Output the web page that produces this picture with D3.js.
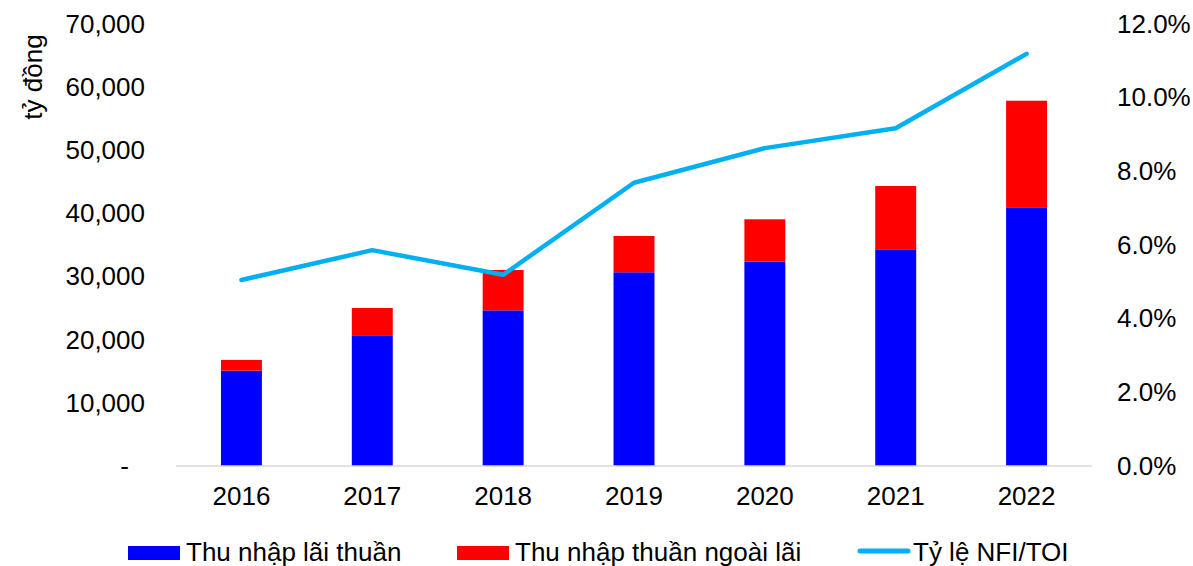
<!DOCTYPE html>
<html>
<head>
<meta charset="utf-8">
<script src="https://cdn.jsdelivr.net/npm/d3@7"></script>
<style>
  body { margin: 0; background: #fff; }
  text { font-family: "Liberation Sans", Arial, sans-serif; fill: #000; }
</style>
</head>
<body>
<svg id="chart" width="1193" height="566"></svg>
<script>
// data
const years = ["2016", "2017", "2018", "2019", "2020", "2021", "2022"];
const netInterest = [15100, 20600, 24650, 30680, 32350, 34320, 40970];
const nonInterest = [1700, 4420, 6390, 5750, 6720, 10020, 16880];
const nfiRatio = [0.0505, 0.0586, 0.0519, 0.0769, 0.0863, 0.0917, 0.1119];
const leftTicks = [0, 10000, 20000, 30000, 40000, 50000, 60000, 70000];
const rightTicks = [0, 0.02, 0.04, 0.06, 0.08, 0.1, 0.12];

const svg = d3.select("#chart");
const plotLeft = 176, plotRight = 1092, plotTop = 24, plotBottom = 466;

const x = d3.scaleBand().domain(years).range([plotLeft, plotRight])
  .paddingInner(0.687).paddingOuter(0.3435);
const y = d3.scaleLinear().domain([0, 70000]).range([plotBottom, plotTop]);
const y2 = d3.scaleLinear().domain([0, 0.12]).range([plotBottom, plotTop]);

const rows = years.map((yr, i) => ({
  year: yr,
  a: netInterest[i],
  b: nonInterest[i],
  r: nfiRatio[i],
}));

// bars: blue bottom, red on top
svg.append("g").selectAll("rect")
  .data(rows)
  .enter()
  .append("rect")
  .attr("x", (d) => x(d.year))
  .attr("y", (d) => y(d.a))
  .attr("width", x.bandwidth())
  .attr("height", (d) => y(0) - y(d.a))
  .attr("fill", "#0000ff");

svg.append("g").selectAll("rect")
  .data(rows)
  .enter()
  .append("rect")
  .attr("x", (d) => x(d.year))
  .attr("y", (d) => y(d.a + d.b))
  .attr("width", x.bandwidth())
  .attr("height", (d) => y(d.a) - y(d.a + d.b))
  .attr("fill", "#ff0000");

// baseline
svg.append("line")
  .attr("x1", plotLeft).attr("x2", plotRight)
  .attr("y1", y(0)).attr("y2", y(0))
  .attr("stroke", "#d9d9d9").attr("stroke-width", 1.5);

// ratio line
const line = d3.line()
  .x((d) => x(d.year) + x.bandwidth() / 2)
  .y((d) => y2(d.r));

svg.append("path")
  .datum(rows)
  .attr("fill", "none")
  .attr("stroke", "#00b0f0")
  .attr("stroke-width", 4.5)
  .attr("stroke-linecap", "round")
  .attr("stroke-linejoin", "round")
  .attr("d", line);

// left axis
const fmt = d3.format(",");
const yAxis = svg.append("g")
  .attr("transform", "translate(145,0)")
  .call(d3.axisLeft(y).tickValues(leftTicks).tickSize(0).tickPadding(0)
    .tickFormat((d) => (d === 0 ? "-" : fmt(d))));
yAxis.select(".domain").remove();
yAxis.selectAll("text")
  .style("font-size", "26px")
  .style("font-family", "'Liberation Sans', Arial, sans-serif")
  .attr("fill", "#000")
  .attr("dx", (d) => (d === 0 ? -16 : 0));

// right axis
const y2Axis = svg.append("g")
  .attr("transform", "translate(1117,0)")
  .call(d3.axisRight(y2).tickValues(rightTicks).tickSize(0).tickPadding(0)
    .tickFormat(d3.format(".1%")));
y2Axis.select(".domain").remove();
y2Axis.selectAll("text")
  .style("font-size", "26px")
  .style("font-family", "'Liberation Sans', Arial, sans-serif")
  .attr("fill", "#000");

// x axis labels
const xAxis = svg.append("g")
  .attr("transform", `translate(0,${plotBottom})`)
  .call(d3.axisBottom(x).tickSize(0).tickPadding(21));
xAxis.select(".domain").remove();
xAxis.selectAll("text")
  .style("font-size", "26px")
  .style("font-family", "'Liberation Sans', Arial, sans-serif")
  .attr("fill", "#000");

// y title
svg.append("text")
  .attr("transform", "translate(42,77) rotate(-90)")
  .attr("text-anchor", "middle")
  .style("font-size", "26px")
  .text("tỷ đồng");

// legend
const legendY = 561;
const legend = [
  { label: "Thu nhập lãi thuần", color: "#0000ff", type: "rect", x: 128, tx: 186 },
  { label: "Thu nhập thuần ngoài lãi", color: "#ff0000", type: "rect", x: 457, tx: 515 },
  { label: "Tỷ lệ NFI/TOI", color: "#00b0f0", type: "line", x: 858, tx: 913 },
];
legend.forEach((d) => {
  const g = svg.append("g").attr("transform", `translate(0,${legendY})`);
  if (d.type === "rect") {
    g.append("rect")
      .attr("x", d.x).attr("y", -15)
      .attr("width", 52).attr("height", 14)
      .attr("fill", d.color);
  } else {
    g.append("line")
      .attr("x1", d.x + 2).attr("x2", d.x + 50)
      .attr("y1", -10).attr("y2", -10)
      .attr("stroke", d.color)
      .attr("stroke-width", 5)
      .attr("stroke-linecap", "round");
  }
  g.append("text")
    .attr("x", d.tx)
    .attr("y", 0)
    .style("font-size", "26px")
    .text(d.label);
});
</script>
</body>
</html>
